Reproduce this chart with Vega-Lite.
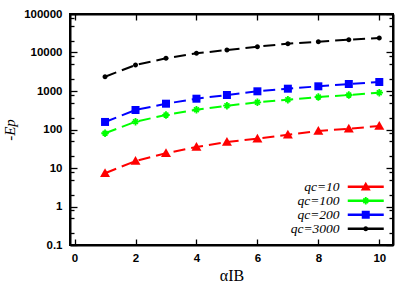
{
  "$schema": "https://vega.github.io/schema/vega-lite/v6.json",
  "autosize": {"type": "none"},
  "padding": {"left": 70, "top": 14, "right": 22, "bottom": 46},
  "width": 323,
  "height": 231,
  "background": "white",
  "config": {
    "view": {"stroke": "black", "strokeWidth": 2},
    "axis": {
      "domainColor": "black", "domainWidth": 2, "tickColor": "black", "tickWidth": 1.3,
      "labelFont": "Liberation Sans", "labelFontWeight": "bold", "labelFontSize": 11.5, "labelColor": "black",
      "grid": false, "labelOverlap": false, "labelBound": false, "labelFlush": false
    }
  },
  "data": {"values": [
    {"a": 1, "E": 7.3, "s": "qc=10", "m": "t"}, {"a": 2, "E": 15.2, "s": "qc=10", "m": "t"}, {"a": 3, "E": 24.1, "s": "qc=10", "m": "t"}, {"a": 4, "E": 35.1, "s": "qc=10", "m": "t"}, {"a": 5, "E": 47.3, "s": "qc=10", "m": "t"},
    {"a": 6, "E": 57.7, "s": "qc=10", "m": "t"}, {"a": 7, "E": 73.3, "s": "qc=10", "m": "t"}, {"a": 8, "E": 91.4, "s": "qc=10", "m": "t"}, {"a": 9, "E": 105, "s": "qc=10", "m": "t"}, {"a": 10, "E": 123, "s": "qc=10", "m": "t"},
    {"a": 1, "E": 80, "s": "qc=100", "m": "a"}, {"a": 2, "E": 160, "s": "qc=100", "m": "a"}, {"a": 3, "E": 238, "s": "qc=100", "m": "a"}, {"a": 4, "E": 327, "s": "qc=100", "m": "a"}, {"a": 5, "E": 415, "s": "qc=100", "m": "a"},
    {"a": 6, "E": 508, "s": "qc=100", "m": "a"}, {"a": 7, "E": 594, "s": "qc=100", "m": "a"}, {"a": 8, "E": 698, "s": "qc=100", "m": "a"}, {"a": 9, "E": 787, "s": "qc=100", "m": "a"}, {"a": 10, "E": 903, "s": "qc=100", "m": "a"},
    {"a": 1, "E": 157, "s": "qc=200", "m": "s"}, {"a": 2, "E": 321, "s": "qc=200", "m": "s"}, {"a": 3, "E": 468, "s": "qc=200", "m": "s"}, {"a": 4, "E": 631, "s": "qc=200", "m": "s"}, {"a": 5, "E": 787, "s": "qc=200", "m": "s"},
    {"a": 6, "E": 982, "s": "qc=200", "m": "s"}, {"a": 7, "E": 1148, "s": "qc=200", "m": "s"}, {"a": 8, "E": 1324, "s": "qc=200", "m": "s"}, {"a": 9, "E": 1520, "s": "qc=200", "m": "s"}, {"a": 10, "E": 1714, "s": "qc=200", "m": "s"},
    {"a": 1, "E": 2350, "s": "qc=3000", "m": "c"}, {"a": 2, "E": 4730, "s": "qc=3000", "m": "c"}, {"a": 3, "E": 7060, "s": "qc=3000", "m": "c"}, {"a": 4, "E": 9530, "s": "qc=3000", "m": "c"}, {"a": 5, "E": 11600, "s": "qc=3000", "m": "c"},
    {"a": 6, "E": 14150, "s": "qc=3000", "m": "c"}, {"a": 7, "E": 16950, "s": "qc=3000", "m": "c"}, {"a": 8, "E": 19100, "s": "qc=3000", "m": "c"}, {"a": 9, "E": 21500, "s": "qc=3000", "m": "c"}, {"a": 10, "E": 23800, "s": "qc=3000", "m": "c"}
  ]},
  "layer": [
    {
      "mark": {"type": "line", "strokeWidth": 2, "strokeDash": [12, 6]},
      "encoding": {
        "x": {"field": "a", "type": "quantitative", "scale": {"domain": [-0.15, 10.45], "nice": false, "zero": false},
          "axis": {"orient": "bottom", "values": [0, 2, 4, 6, 8, 10], "tickSize": -6, "labelPadding": 13, "title": "αIB", "titleFont": "Liberation Serif", "titleFontSize": 16, "titleFontWeight": "normal", "titlePadding": 4, "titleColor": "black"}},
        "y": {"field": "E", "type": "quantitative", "scale": {"type": "log", "domain": [0.1, 100000], "nice": false},
          "axis": {"orient": "left",
            "values": [0.1, 0.2, 0.5, 0.8, 1, 2, 5, 8, 10, 20, 50, 80, 100, 200, 500, 800, 1000, 2000, 5000, 8000, 10000, 20000, 50000, 80000, 100000],
            "tickSize": {"condition": {"test": "abs(log(datum.value)/LN10 - round(log(datum.value)/LN10)) < 0.01", "value": -7}, "value": -4},
            "labelExpr": "abs(log(datum.value)/LN10 - round(log(datum.value)/LN10)) < 0.01 ? format(datum.value, '~f') : ''",
            "labelPadding": 15, "title": "-Ep", "titleFont": "Liberation Serif", "titleFontStyle": "italic", "titleFontSize": 15, "titleFontWeight": "normal", "titlePadding": 6, "titleColor": "black"}},
        "color": {"field": "s", "type": "nominal",
          "scale": {"domain": ["qc=10", "qc=100", "qc=200", "qc=3000"], "range": ["#ff0000", "#00ff00", "#0000ff", "#000000"]},
          "legend": {
            "orient": "none", "legendX": 289, "legendY": 166, "title": null, "padding": 0,
            "symbolSize": 100, "rowPadding": -7,
            "labelFont": "Liberation Serif", "labelFontStyle": "italic", "labelFontSize": 13.5, "labelColor": "black",
            "labelAlign": "right", "labelOffset": -33,
            "encode": {"symbols": {"update": {
              "shape": {"signal": "datum.value === 'qc=10' ? 'M-3.6,-0.25H3.6V0.25H-3.6Z M0,-1L1,0.75H-1Z' : datum.value === 'qc=100' ? 'M-3.6,-0.25H3.6V0.25H-3.6Z M-0.18,-0.75H0.18V-0.18H0.75V0.18H0.18V0.75H-0.18V0.18H-0.75V-0.18H-0.18Z M0.368,-0.594L0.594,-0.368L0.226,0L0.594,0.368L0.368,0.594L0,0.226L-0.368,0.594L-0.594,0.368L-0.226,0L-0.594,-0.368L-0.368,-0.594L0,-0.226Z' : datum.value === 'qc=200' ? 'M-3.6,-0.25H3.6V0.25H-3.6Z M-0.8,-0.8H0.8V0.8H-0.8Z' : 'M-3.6,-0.25H3.6V0.25H-3.6Z M0.5,0A0.5,0.5 0 1,1 -0.5,0A0.5,0.5 0 1,1 0.5,0Z'"},
              "fill": {"signal": "scale('color', datum.value)"},
              "stroke": {"value": "transparent"},
              "strokeWidth": {"value": 0},
              "strokeDash": {"value": []},
              "opacity": {"value": 1}
            }}}
          }}
      }
    },
    {
      "mark": {"type": "point", "filled": true, "opacity": 1},
      "encoding": {
        "x": {"field": "a", "type": "quantitative", "axis": {"orient": "top", "values": [0, 2, 4, 6, 8, 10], "tickSize": -6, "labels": false, "title": null}},
        "y": {"field": "E", "type": "quantitative",
          "axis": {"orient": "right",
            "values": [0.1, 0.2, 0.5, 0.8, 1, 2, 5, 8, 10, 20, 50, 80, 100, 200, 500, 800, 1000, 2000, 5000, 8000, 10000, 20000, 50000, 80000, 100000],
            "tickSize": {"condition": {"test": "abs(log(datum.value)/LN10 - round(log(datum.value)/LN10)) < 0.01", "value": -7}, "value": -4},
            "labels": false, "title": null}},
        "color": {"field": "s", "type": "nominal"},
        "shape": {"field": "m", "type": "nominal",
          "scale": {"domain": ["t", "a", "s", "c"], "range": ["M0,-1L1,0.75H-1Z", "M-0.18,-0.75H0.18V-0.18H0.75V0.18H0.18V0.75H-0.18V0.18H-0.75V-0.18H-0.18Z M0.368,-0.594L0.594,-0.368L0.226,0L0.594,0.368L0.368,0.594L0,0.226L-0.368,0.594L-0.594,0.368L-0.226,0L-0.594,-0.368L-0.368,-0.594L0,-0.226Z", "M-0.8,-0.8H0.8V0.8H-0.8Z", "M0.5,0A0.5,0.5 0 1,1 -0.5,0A0.5,0.5 0 1,1 0.5,0Z"]},
          "legend": null},
        "size": {"value": 100}
      }
    }
  ]
}
